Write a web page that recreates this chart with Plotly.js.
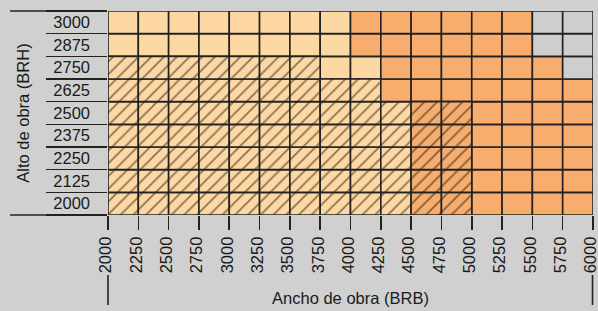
<!DOCTYPE html>
<html>
<head>
<meta charset="utf-8">
<script src="https://cdn.plot.ly/plotly-3.0.1.min.js"></script>
<style>html,body{margin:0;padding:0;background:#d0d0d0;}#chart{width:598px;height:311px;}</style>
</head>
<body>
<div id="chart"></div>
<script>
// Column edges: Ancho de obra (BRB)
const widthTicks = [2000, 2250, 2500, 2750, 3000, 3250, 3500, 3750, 4000, 4250, 4500, 4750, 5000, 5250, 5500, 5750, 6000];
// Row values: Alto de obra (BRH), bottom to top
const heightRows = [2000, 2125, 2250, 2375, 2500, 2625, 2750, 2875, 3000];
// Cell type per row (same order as heightRows), one char per column
// h = light hatched, H = dark hatched, l = light, d = dark, g = not available
const cellTypes = [
  'hhhhhhhhhhHHdddd',
  'hhhhhhhhhhHHdddd',
  'hhhhhhhhhhHHdddd',
  'hhhhhhhhhhHHdddd',
  'hhhhhhhhhhHHdddd',
  'hhhhhhhhhddddddd',
  'hhhhhhhllddddddg',
  'llllllllddddddgg',
  'llllllllddddddgg'
];

const styles = {
  l: {color: '#fdd8a3', hatch: false},
  h: {color: '#fdd8a3', hatch: true},
  d: {color: '#f6ad6d', hatch: false},
  H: {color: '#f6ad6d', hatch: true},
  g: {color: '#cecece', hatch: false}
};

const traces = Object.keys(styles).map(function (code) {
  const xs = [], bases = [], ys = [];
  cellTypes.forEach(function (row, ri) {
    for (let ci = 0; ci < row.length; ci++) {
      if (row[ci] === code) {
        bases.push(widthTicks[ci]);
        xs.push(widthTicks[ci + 1] - widthTicks[ci]);
        ys.push(heightRows[ri]);
      }
    }
  });
  const st = styles[code];
  const marker = {color: st.color, line: {color: '#222', width: 1.6}};
  if (st.hatch) {
    marker.pattern = {shape: '/', size: 9, solidity: 0.2, fgcolor: '#111', fillmode: 'overlay'};
  }
  return {
    type: 'bar', orientation: 'h', x: xs, base: bases, y: ys,
    width: heightRows[1] - heightRows[0], marker: marker,
    hoverinfo: 'skip', showlegend: false
  };
});

const rowStep = heightRows[1] - heightRows[0];
const rowBounds = heightRows.map(v => v - rowStep / 2).concat([heightRows[heightRows.length - 1] + rowStep / 2]);

const layout = {
  width: 598, height: 311,
  margin: {l: 108, r: 5, t: 11, b: 96},
  paper_bgcolor: '#d0d0d0', plot_bgcolor: '#d0d0d0',
  font: {family: 'Liberation Sans, Arial, sans-serif', size: 16.5, color: '#1a1a1a'},
  barmode: 'overlay',
  xaxis: {
    range: [widthTicks[0], widthTicks[widthTicks.length - 1]],
    tickmode: 'array', tickvals: widthTicks, ticktext: widthTicks.map(String),
    tickangle: -90, ticks: 'outside', ticklen: 14, tickwidth: 1.6, tickcolor: '#222',
    ticklabeloverflow: 'allow', ticklabelshift: -2,
    showgrid: false, zeroline: false, showline: false,
    title: {text: 'Ancho de obra (BRB)', standoff: 20, font: {size: 16.5}},
    automargin: false
  },
  yaxis: {
    range: [rowBounds[0], rowBounds[rowBounds.length - 1]],
    tickmode: 'array', tickvals: heightRows, ticktext: heightRows.map(String),
    ticks: '', ticklabelstandoff: 17,
    minor: {tickmode: 'array', tickvals: rowBounds, ticks: 'outside', ticklen: 61, tickwidth: 1.6, tickcolor: '#222', showgrid: false},
    showgrid: false, zeroline: false, showline: false,
    title: {text: 'Alto de obra (BRH)', standoff: 19, font: {size: 16.5}},
    automargin: false
  },
  shapes: [
    {type: 'line', xref: 'paper', yref: 'paper', x0: -0.202, x1: -0.08, y0: 1, y1: 1, line: {color: '#222', width: 1.6}},
    {type: 'line', xref: 'paper', yref: 'paper', x0: -0.202, x1: -0.08, y0: 0, y1: 0, line: {color: '#222', width: 1.6}},
    {type: 'line', xref: 'paper', yref: 'paper', x0: 0, x1: 0, y0: -0.294, y1: -0.441, line: {color: '#222', width: 1.6}},
    {type: 'line', xref: 'paper', yref: 'paper', x0: 0.999, x1: 0.999, y0: -0.294, y1: -0.441, line: {color: '#222', width: 1.6}}
  ]
};

Plotly.newPlot('chart', traces, layout, {displayModeBar: false, staticPlot: true});
</script>
</body>
</html>
